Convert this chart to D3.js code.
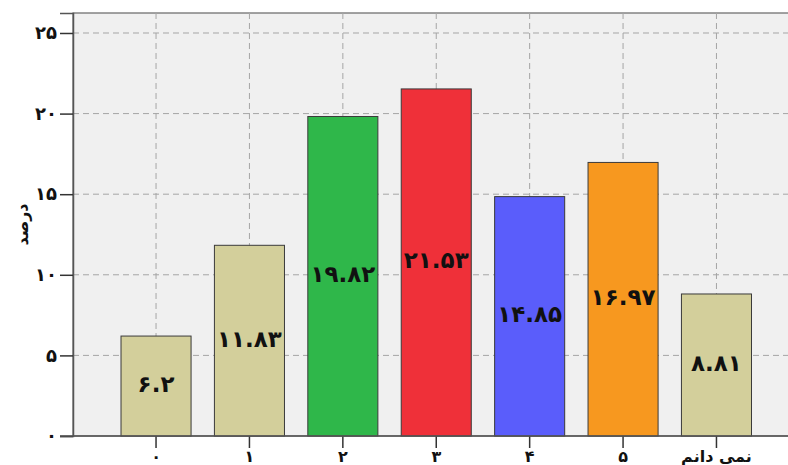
<!DOCTYPE html>
<html>
<head>
<meta charset="utf-8">
<script src="https://cdn.jsdelivr.net/npm/d3@7"></script>
<style>
  body { margin: 0; background: #fff; }
  text { font-family: "DejaVu Sans", sans-serif; }
</style>
</head>
<body>
<script>
// Data
var categories = ["0", "1", "2", "3", "4", "5", "نمی دانم"];
var values = [6.2, 11.83, 19.82, 21.53, 14.85, 16.97, 8.81];
var barColors = ["#d3cf9b", "#d3cf9b", "#2fb74a", "#ef3039", "#5a5dfb", "#f7981f", "#d3cf9b"];
var yTicks = [0, 5, 10, 15, 20, 25];
var yTitle = "درصد";

// latin digits -> persian digits
function fa(s) {
  return String(s).replace(/[0-9]/g, function(c) { return "۰۱۲۳۴۵۶۷۸۹"[+c]; });
}

var width = 788, height = 465;
var margin = {top: 13, left: 73, bottom: 29};

var svg = d3.select("body").append("svg")
            .attr("width", width)
            .attr("height", height);

var x = d3.scaleBand()
          .domain(categories)
          .range([margin.left, 799.5])
          .paddingInner(0.25)
          .paddingOuter(0.514);

var y = d3.scaleLinear()
          .domain([0, 26.24])
          .range([height - margin.bottom, margin.top]);

// plot background
svg.append("rect")
   .attr("x", margin.left)
   .attr("y", margin.top)
   .attr("width", width - margin.left + 5)
   .attr("height", y(0) - margin.top)
   .attr("fill", "#f0f0f0")
   .attr("stroke", "#666")
   .attr("stroke-width", 1.2);

// grid lines
svg.selectAll(".hgrid")
   .data(yTicks.slice(1))
   .enter()
   .append("line")
   .attr("x1", margin.left)
   .attr("x2", width)
   .attr("y1", function(d) { return y(d); })
   .attr("y2", function(d) { return y(d); })
   .attr("stroke", "#a5a5a5")
   .attr("stroke-dasharray", "6,4");

svg.selectAll(".vgrid")
   .data(categories)
   .enter()
   .append("line")
   .attr("x1", function(d) { return x(d) + x.bandwidth() / 2; })
   .attr("x2", function(d) { return x(d) + x.bandwidth() / 2; })
   .attr("y1", margin.top)
   .attr("y2", y(0))
   .attr("stroke", "#a5a5a5")
   .attr("stroke-dasharray", "6,4");

// bars
svg.selectAll(".bar")
   .data(values)
   .enter()
   .append("rect")
   .attr("x", function(d, i) { return x(categories[i]); })
   .attr("y", function(d) { return y(d); })
   .attr("width", x.bandwidth())
   .attr("height", function(d) { return y(0) - y(d); })
   .attr("fill", function(d, i) { return barColors[i]; })
   .attr("stroke", "#3a3a3a")
   .attr("stroke-width", 1);

// bar labels
svg.selectAll(".lbl")
   .data(values)
   .enter()
   .append("text")
   .attr("x", function(d, i) { return x(categories[i]) + x.bandwidth() / 2; })
   .attr("y", function(d) { return (y(d) + y(0)) / 2 - 2; })
   .attr("text-anchor", "middle")
   .attr("dominant-baseline", "central")
   .attr("font-size", 23)
   .attr("font-weight", "bold")
   .attr("fill", "#111")
   .text(function(d) { return fa(d); });

// y axis
var yAxis = d3.axisLeft(y)
              .tickValues(yTicks)
              .tickSize(13)
              .tickPadding(3)
              .tickFormat(fa);
var gy = svg.append("g")
            .attr("transform", "translate(" + margin.left + ",0)")
            .call(yAxis);
gy.select(".domain").attr("stroke", "#555").attr("stroke-width", 1.5);
gy.selectAll(".tick line").attr("stroke", "#333").attr("stroke-width", 1.5);
gy.selectAll(".tick text")
  .attr("font-size", 18)
  .attr("font-weight", "bold")
  .attr("fill", "#111")
  .style("font-family", "DejaVu Sans");

// x axis
var xAxis = d3.axisBottom(x)
              .tickSize(12)
              .tickPadding(3)
              .tickFormat(fa);
var gx = svg.append("g")
            .attr("transform", "translate(0," + y(0) + ")")
            .call(xAxis);
gx.select(".domain").remove();
gx.append("line")
  .attr("x1", margin.left - 13)
  .attr("x2", width)
  .attr("stroke", "#555")
  .attr("stroke-width", 1.5);
gx.selectAll(".tick line").attr("stroke", "#333").attr("stroke-width", 1.5);
gx.selectAll(".tick text")
  .attr("font-size", 16)
  .attr("font-weight", "bold")
  .attr("fill", "#111")
  .style("font-family", "DejaVu Sans");

// y title
svg.append("text")
   .attr("transform", "translate(22," + ((margin.top + y(0)) / 2) + ") rotate(-90)")
   .attr("text-anchor", "middle")
   .attr("dominant-baseline", "central")
   .attr("font-size", 16)
   .attr("font-weight", "bold")
   .attr("fill", "#111")
   .text(yTitle);
</script>
</body>
</html>
